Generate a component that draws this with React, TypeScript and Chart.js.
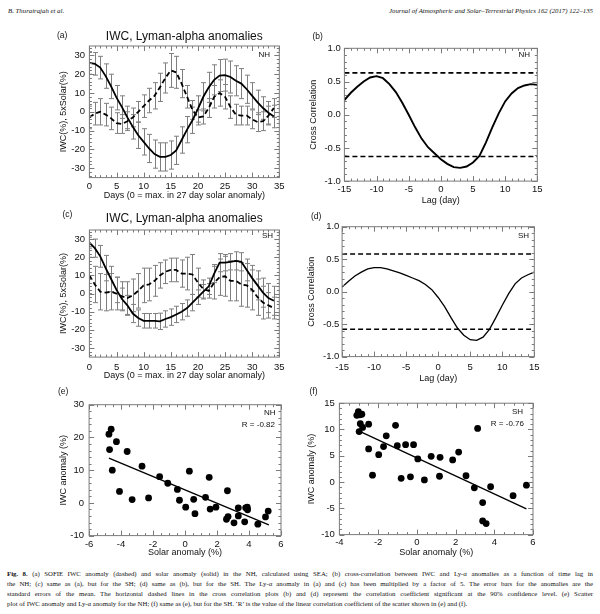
import React, { useEffect, useRef } from "react";
import { Chart, registerables } from "chart.js";
Chart.register(...registerables);

// ---------------- DATA ----------------
const DAYS = [0,1,2,3,4,5,6,7,8,9,10,11,12,13,14,15,16,17,18,19,20,21,22,23,24,25,26,27,28,29,30,31,32,33,34];

// (a) NH: 5 x solar anomaly (solid) and IWC anomaly (dashed)
const NH_SOLAR = [26,25.5,23.5,19,13.5,7.5,2.5,-3,-8,-12.5,-16,-19.5,-22.5,-24,-24,-23,-20.5,-15,-9.5,-4.5,1.5,8,13,17,19.3,19.5,18.5,16.5,15,12,8.5,5,2,-0.5,-2.5];
const NH_SOLAR_ERR = [6,6,6,6.5,6.5,6.5,6,6,6.5,7,7,7.5,7.5,7.5,7.5,7.5,7.5,7,7,7,7,7.5,8,8,8.5,8.5,8.5,8,8,7.5,7,6.5,6,6,6];
const NH_IWC = [-3,-1,0,-1.5,-3.5,-6,-6.5,-5,-3,0,3,6,8.5,13,18,22,21,15,8,1,-3,-2.5,2,8,10,8,2.5,-1.5,-2,-2,-4,-5.5,-5,-2,2];
const NH_IWC_ERR = [6,6,7,6,6,5.5,5,5,5,5.5,6,6.5,7,7.5,8,9,8.5,7.5,6,5,4,4,5,6,7,6.5,6,5.5,5,5,5,5,5,5,5];

// (c) SH
const SH_SOLAR = [28,25,20.5,14,8,2,-3,-6.5,-11,-13.5,-15,-15,-15,-15.3,-14,-13,-11.5,-10,-8,-5,-2,1,4,11,17,17,17.5,18,17.5,13,8.5,4.5,0.5,-2.5,-4];
const SH_SOLAR_ERR = [3,5,6,7,7,7,6,5.5,5,4.5,4,4,4,4.5,4.5,4.5,4.5,4.5,4.5,4.5,4,4,4.5,5,5,4.5,4.5,5,5,6,7,8,8,8,8];
const SH_IWC = [10,5,1,0.5,1,0,-1.5,-2.5,-1,1.5,4.5,5,7,10,12,13,13,11,11,10.5,6,2.5,1.5,6,9,9.5,7,7,5,4.5,2,-2,-5,-6.5,-8];
const SH_IWC_ERR = [10,10,10,10,10,9,8,9,9,9.5,9.5,9,8.5,7,6.5,6.5,6.5,7.5,9,11,8,5,4,9,10,11,11,11,12,12,11,10,9,7,6];

const PANEL_AC_X_TICKS = [0,5,10,15,20,25,30,35];
const PANEL_AC_Y_TICKS = [-30,-20,-10,0,10,20,30];

// (b), (d) cross correlation vs lag
const LAGS = [-15,-14,-13,-12,-11,-10,-9,-8,-7,-6,-5,-4,-3,-2,-1,0,1,2,3,4,5,6,7,8,9,10,11,12,13,14,15];
const NH_CC = [0.22,0.33,0.42,0.5,0.56,0.58,0.55,0.46,0.34,0.18,0.0,-0.19,-0.36,-0.49,-0.58,-0.67,-0.74,-0.79,-0.8,-0.78,-0.72,-0.62,-0.42,-0.19,0.02,0.2,0.32,0.4,0.44,0.46,0.45];
const NH_SIG = 0.63;
const SH_CC = [0.07,0.16,0.24,0.3,0.35,0.37,0.37,0.35,0.32,0.29,0.25,0.21,0.17,0.11,0.03,-0.09,-0.23,-0.4,-0.56,-0.67,-0.74,-0.75,-0.7,-0.58,-0.4,-0.21,-0.03,0.12,0.21,0.26,0.3];
const SH_SIG = 0.58;
const LAG_TICKS = [-15,-10,-5,0,5,10,15];
const CC_TICKS = [-1,-0.5,0,0.5,1];

// (e) NH scatter
const E_SOLAR = [-4.76,-4.62,-4.72,-4.29,-4.55,-3.62,-4.1,-3.31,-2.69,-2.28,-1.59,-1.08,-0.48,-0.35,0.04,0.27,0.54,0.62,1.28,1.51,1.57,1.93,2.65,2.59,2.69,3.06,3.33,3.33,3.73,3.79,3.91,3.89,4.55,5.03,5.2];
const E_IWC = [21,22.5,16.3,18.7,10,15.7,3.5,1,11.2,1.5,8,6,4.1,0.8,-1.3,9.7,1.1,-3.3,1.7,7.8,-1.9,-1.3,3.7,-5,-4.2,-6.1,-1.5,-4,-5.8,-1.5,-2.1,-1.3,-6.5,-4.3,-2.5];
const E_FIT_X = [-4.76,5.24];
const E_FIT_Y = [13.7,-6.7];
const E_X_TICKS = [-6,-4,-2,0,2,4,6];
const E_Y_TICKS = [-10,0,10,20,30];

// (f) SH scatter
const F_SOLAR = [-3.1,-3.02,-2.95,-2.84,-2.92,-2.98,-2.8,-2.49,-2.49,-2.29,-1.97,-1.72,-1.58,-1.1,-1.01,-0.81,-0.58,-0.17,-0.33,0.05,0.39,0.74,1.17,1.2,1.85,2.16,2.54,2.97,3.14,3.4,3.4,3.58,3.81,4.97,5.66];
const F_IWC = [12.7,13.4,12.8,12.9,11.1,9.6,10.4,11,6.3,1.3,5.2,6.75,8.8,10.8,6.9,0.7,7.1,7.1,1,4.4,0.4,4.9,1.1,4.7,4.2,5.7,1.2,-1.1,10.2,-3.9,-7.4,-7.9,-0.9,-2.6,-0.6];
const F_FIT_X = [-2.92,5.66];
const F_FIT_Y = [9.6,-5.1];
const F_X_TICKS = [-4,-2,0,2,4,6];
const F_Y_TICKS = [-10,-5,0,5,10,15];

// ---------------- STYLE ----------------
const SANS = "'Liberation Sans', Arial, Helvetica, sans-serif";
const SERIF = "'Liberation Serif', 'Times New Roman', serif";
const TEXT = "#111";
const FRAME = "#7a7a7a";
const ERRC = "#7f7f7f";
const TICK_FONT = 9.5;
const TITLE_FONT = 9;

type Box = { l: number; t: number; r: number; b: number };
type Geom = { box: Box; yTitleX: number; yLabRight: number; xTickGap: number; xTitleGap: number; right: number; top: number };

function canvasRect(g: Geom) {
  const lh = TITLE_FONT * 1.2;
  const x = g.yTitleX - lh / 2;
  const y = g.top;
  const r = g.right;
  const b = g.box.b + g.xTitleGap + lh / 2;
  return { x, y, w: r - x, h: b - y };
}

const framePlugin = {
  id: "frame",
  afterDatasetsDraw(chart: any, _args: any, opts: any) {
    const { ctx, chartArea: a } = chart;
    ctx.save();
    ctx.strokeStyle = FRAME;
    ctx.lineWidth = 1;
    ctx.strokeRect(a.left, a.top, a.right - a.left, a.bottom - a.top);
    const drawAxis = (scale: any, horizontal: boolean, minorN: number) => {
      const vals = scale.ticks.map((t: any) => t.value);
      if (vals.length < 2) return;
      const step = vals[1] - vals[0];
      const ms = step / minorN;
      const k0 = Math.ceil((scale.min - vals[0]) / ms - 1e-6);
      const k1 = Math.floor((scale.max - vals[0]) / ms + 1e-6);
      ctx.beginPath();
      for (let k = k0; k <= k1; k++) {
        const v = vals[0] + k * ms;
        const major = ((k % minorN) + minorN) % minorN === 0;
        const len = major ? 5 : 2.5;
        const p = Math.round(scale.getPixelForValue(v)) + 0.5;
        if (horizontal) {
          ctx.moveTo(p, a.bottom); ctx.lineTo(p, a.bottom - len);
          ctx.moveTo(p, a.top); ctx.lineTo(p, a.top + len);
        } else {
          ctx.moveTo(a.left, p); ctx.lineTo(a.left + len, p);
          ctx.moveTo(a.right, p); ctx.lineTo(a.right - len, p);
        }
      }
      ctx.stroke();
    };
    drawAxis(chart.scales.x, true, opts.xMinor || 5);
    drawAxis(chart.scales.y, false, opts.yMinor || 5);
    ctx.restore();
  },
};

const errorPlugin = {
  id: "errbars",
  beforeDatasetsDraw(chart: any) {
    const { ctx, chartArea: a } = chart;
    const xs = chart.scales.x, ys = chart.scales.y;
    ctx.save();
    ctx.beginPath();
    ctx.rect(a.left, a.top, a.right - a.left, a.bottom - a.top);
    ctx.clip();
    ctx.strokeStyle = ERRC;
    ctx.lineWidth = 1;
    chart.data.datasets.forEach((ds: any) => {
      if (!ds.errors) return;
      ds.data.forEach((pt: any, i: number) => {
        const e = ds.errors[i];
        const x = Math.round(xs.getPixelForValue(pt.x)) + 0.5;
        const y1 = ys.getPixelForValue(pt.y + e);
        const y2 = ys.getPixelForValue(pt.y - e);
        ctx.beginPath();
        ctx.moveTo(x, y1); ctx.lineTo(x, y2);
        ctx.moveTo(x - 2.5, y1); ctx.lineTo(x + 2.5, y1);
        ctx.moveTo(x - 2.5, y2); ctx.lineTo(x + 2.5, y2);
        ctx.stroke();
      });
    });
    ctx.restore();
  },
};

function scaleOpts(g: Geom, axis: "x" | "y", min: number, max: number, ticks: number[], title: string, fmt: (v: number) => string) {
  const lh = TICK_FONT * 1.2;
  const rect = canvasRect(g);
  const base: any = {
    type: "linear",
    min,
    max,
    grid: { display: false, drawTicks: false },
    border: { display: false },
    afterBuildTicks: (s: any) => { s.ticks = ticks.map((v) => ({ value: v })); },
    ticks: {
      autoSkip: false,
      maxRotation: 0,
      color: TEXT,
      font: { family: SANS, size: TICK_FONT },
      callback: (v: any) => fmt(Number(v)),
    },
    title: { display: true, text: title, color: TEXT, font: { family: SANS, size: TITLE_FONT }, padding: 0 },
  };
  if (axis === "x") {
    base.position = "bottom";
    base.ticks.padding = g.xTickGap - lh / 2;
    base.afterFit = (s: any) => { s.height = rect.y + rect.h - g.box.b; };
  } else {
    base.position = "left";
    base.ticks.padding = g.box.l - g.yLabRight;
    base.afterFit = (s: any) => { s.width = g.box.l - rect.x; };
  }
  return base;
}

function layoutPadding(g: Geom) {
  const rect = canvasRect(g);
  return { left: 0, bottom: 0, top: g.box.t - rect.y, right: rect.x + rect.w - g.box.r };
}

function pts(xs: number[], ys: number[]) {
  return xs.map((x, i) => ({ x, y: ys[i] }));
}

const intFmt = (v: number) => String(Math.round(v));
const oneDec = (v: number) => v.toFixed(1);

function anomalyConfig(g: Geom, iwc: number[], iwcErr: number[], solar: number[], solarErr: number[]) {
  return {
    type: "line",
    data: {
      datasets: [
        { data: pts(DAYS, iwc), errors: iwcErr, borderColor: "#000", borderWidth: 1.8, borderDash: [5, 3], pointRadius: 0, fill: false },
        { data: pts(DAYS, solar), errors: solarErr, borderColor: "#000", borderWidth: 1.8, pointRadius: 0, fill: false },
      ],
    },
    options: {
      animation: false,
      responsive: false,
      maintainAspectRatio: false,
      layout: { padding: layoutPadding(g) },
      plugins: { legend: { display: false }, tooltip: { enabled: false }, frame: { xMinor: 5, yMinor: 5 } },
      scales: {
        x: scaleOpts(g, "x", 0, 35, PANEL_AC_X_TICKS, "Days (0 = max. in 27 day solar anomaly)", intFmt),
        y: scaleOpts(g, "y", -35, 35, PANEL_AC_Y_TICKS, "IWC(%), 5xSolar(%)", intFmt),
      },
    },
    plugins: [errorPlugin, framePlugin],
  };
}

function ccConfig(g: Geom, cc: number[], sig: number, lw: number) {
  return {
    type: "line",
    data: {
      datasets: [
        { data: pts(LAGS, cc), borderColor: "#000", borderWidth: lw, pointRadius: 0, fill: false },
        { data: pts([LAGS[0], LAGS[LAGS.length - 1]], [sig, sig]), borderColor: "#000", borderWidth: 1.6, borderDash: [5, 3], pointRadius: 0 },
        { data: pts([LAGS[0], LAGS[LAGS.length - 1]], [-sig, -sig]), borderColor: "#000", borderWidth: 1.6, borderDash: [5, 3], pointRadius: 0 },
      ],
    },
    options: {
      animation: false,
      responsive: false,
      maintainAspectRatio: false,
      layout: { padding: layoutPadding(g) },
      plugins: { legend: { display: false }, tooltip: { enabled: false }, frame: { xMinor: 5, yMinor: 5 } },
      scales: {
        x: scaleOpts(g, "x", -15, 15, LAG_TICKS, "Lag (day)", intFmt),
        y: scaleOpts(g, "y", -1, 1, CC_TICKS, "Cross Correlation", oneDec),
      },
    },
    plugins: [framePlugin],
  };
}

function scatterConfig(g: Geom, sx: number[], sy: number[], fx: number[], fy: number[], xr: number[], yr: number[], xt: number[], yt: number[], xMinor: number, yMinor: number) {
  return {
    type: "scatter",
    data: {
      datasets: [
        { data: pts(sx, sy), backgroundColor: "#000", borderColor: "#000", pointRadius: 3.4, pointBorderWidth: 0, showLine: false },
        { data: pts(fx, fy), borderColor: "#000", borderWidth: 1.3, pointRadius: 0, showLine: true },
      ],
    },
    options: {
      animation: false,
      responsive: false,
      maintainAspectRatio: false,
      layout: { padding: layoutPadding(g) },
      plugins: { legend: { display: false }, tooltip: { enabled: false }, frame: { xMinor, yMinor } },
      scales: {
        x: scaleOpts(g, "x", xr[0], xr[1], xt, "Solar anomaly (%)", intFmt),
        y: scaleOpts(g, "y", yr[0], yr[1], yt, "IWC anomaly (%)", intFmt),
      },
    },
    plugins: [framePlugin],
  };
}

// ---------------- GEOMETRY ----------------
const G_A: Geom = { box: { l: 89.3, t: 44.5, r: 279.3, b: 177.7 }, yTitleX: 63.3, yLabRight: 85, xTickGap: 9, xTitleGap: 18, right: 297, top: 36 };
const G_B: Geom = { box: { l: 344.3, t: 48.3, r: 537.3, b: 180.7 }, yTitleX: 313.3, yLabRight: 340.7, xTickGap: 8.5, xTitleGap: 19.5, right: 556, top: 38 };
const G_C: Geom = { box: { l: 89.3, t: 228.3, r: 279.3, b: 356.7 }, yTitleX: 63.3, yLabRight: 85, xTickGap: 10, xTitleGap: 18.5, right: 297, top: 220 };
const G_D: Geom = { box: { l: 341.7, t: 226.7, r: 534.3, b: 356.7 }, yTitleX: 311, yLabRight: 339, xTickGap: 11, xTitleGap: 22, right: 554, top: 216 };
const G_E: Geom = { box: { l: 89, t: 403, r: 281, b: 536 }, yTitleX: 63.3, yLabRight: 84, xTickGap: 8.5, xTitleGap: 17, right: 298, top: 394 };
const G_F: Geom = { box: { l: 339, t: 401.7, r: 533, b: 535 }, yTitleX: 311, yLabRight: 334.5, xTickGap: 7.5, xTitleGap: 18, right: 552, top: 393 };

function ChartPanel({ g, make }: { g: Geom; make: () => any }) {
  const ref = useRef<HTMLCanvasElement | null>(null);
  const rect = canvasRect(g);
  useEffect(() => {
    if (!ref.current) return;
    const chart = new Chart(ref.current, make());
    return () => chart.destroy();
  }, []);
  const w = Math.round(rect.w), h = Math.round(rect.h);
  return (
    <canvas
      ref={ref}
      width={w}
      height={h}
      style={{ position: "absolute", left: rect.x, top: rect.y, width: w, height: h }}
    />
  );
}

function Txt({ x, y, size, children, align = "left", family = SANS, style = {} }: any) {
  const s: any = {
    position: "absolute",
    top: y - size * 0.6,
    lineHeight: `${size * 1.2}px`,
    fontSize: size,
    fontFamily: family,
    color: TEXT,
    whiteSpace: "nowrap",
    ...style,
  };
  if (align === "left") s.left = x;
  else if (align === "right") { s.right = 600 - x; s.textAlign = "right"; }
  else { s.left = x - 150; s.width = 300; s.textAlign = "center"; }
  return <div style={s}>{children}</div>;
}

const CAPTION_LINES = [
  "(a) SOFIE IWC anomaly (dashed) and solar anomaly (solid) in the NH, calculated using SEA; (b) cross-correlation between IWC and Ly-\u03b1 anomalies as a function of time lag in",
  "the NH; (c) same as (a), but for the SH; (d) same as (b), but for the SH. The Ly-\u03b1 anomaly in (a) and (c) has been multiplied by a factor of 5. The error bars for the anomalies are the",
  "standard errors of the mean. The horizontal dashed lines in the cross correlation plots (b) and (d) represent the correlation coefficient significant at the 90% confidence level. (e) Scatter",
  "plot of IWC anomaly and Ly-\u03b1 anomaly for the NH; (f) same as (e), but for the SH. \u2018R\u2019 is the value of the linear correlation coefficient of the scatter shown in (e) and (f).",
];

export default function App() {
  return (
    <div style={{ position: "absolute", left: 0, top: 0, width: 600, height: 614, overflow: "hidden", background: "#fff" }}>
      <Txt x={8} y={11} size={6.8} family={SERIF} style={{ fontStyle: "italic" }}>B. Thurairajah et al.</Txt>
      <Txt x={593} y={11} size={6.8} family={SERIF} align="right" style={{ fontStyle: "italic" }}>
        Journal of Atmospheric and Solar–Terrestrial Physics 162 (2017) 122–135
      </Txt>

      <ChartPanel g={G_A} make={() => anomalyConfig(G_A, NH_IWC, NH_IWC_ERR, NH_SOLAR, NH_SOLAR_ERR)} />
      <ChartPanel g={G_B} make={() => ccConfig(G_B, NH_CC, NH_SIG, 1.9)} />
      <ChartPanel g={G_C} make={() => anomalyConfig(G_C, SH_IWC, SH_IWC_ERR, SH_SOLAR, SH_SOLAR_ERR)} />
      <ChartPanel g={G_D} make={() => ccConfig(G_D, SH_CC, SH_SIG, 1.3)} />
      <ChartPanel g={G_E} make={() => scatterConfig(G_E, E_SOLAR, E_IWC, E_FIT_X, E_FIT_Y, [-6, 6], [-10, 30], E_X_TICKS, E_Y_TICKS, 4, 5)} />
      <ChartPanel g={G_F} make={() => scatterConfig(G_F, F_SOLAR, F_IWC, F_FIT_X, F_FIT_Y, [-4, 6], [-10, 15], F_X_TICKS, F_Y_TICKS, 4, 5)} />

      <Txt x={184.3} y={36.5} size={12} align="center">IWC, Lyman-alpha anomalies</Txt>
      <Txt x={184.3} y={218.3} size={12} align="center">IWC, Lyman-alpha anomalies</Txt>

      <Txt x={57} y={35.5} size={8.5}>(a)</Txt>
      <Txt x={312.5} y={36} size={8.5}>(b)</Txt>
      <Txt x={62.5} y={214.5} size={8.5}>(c)</Txt>
      <Txt x={311} y={216.5} size={8.5}>(d)</Txt>
      <Txt x={58} y={391} size={8.5}>(e)</Txt>
      <Txt x={309.5} y={391} size={8.5}>(f)</Txt>

      <Txt x={270} y={54.3} size={8} align="right">NH</Txt>
      <Txt x={530} y={54.3} size={8} align="right">NH</Txt>
      <Txt x={273} y={236} size={8} align="right">SH</Txt>
      <Txt x={529} y={236} size={8} align="right">SH</Txt>
      <Txt x={275.5} y={413} size={8} align="right">NH</Txt>
      <Txt x={275} y={424.7} size={8} align="right">R = -0.82</Txt>
      <Txt x={523} y={412} size={8} align="right">SH</Txt>
      <Txt x={524} y={424} size={8} align="right">R = -0.76</Txt>

      <div style={{ position: "absolute", left: 7, top: 569, width: 586, fontFamily: SERIF, fontSize: 6.8, lineHeight: "10px", color: TEXT }}>
        {CAPTION_LINES.map((line, i) => (
          <div key={i} style={{ textAlign: "justify", textAlignLast: i < CAPTION_LINES.length - 1 ? "justify" : "left", whiteSpace: "normal" } as any}>
            {i === 0 ? <b>Fig. 8. </b> : null}
            {line}
          </div>
        ))}
      </div>
    </div>
  );
}
